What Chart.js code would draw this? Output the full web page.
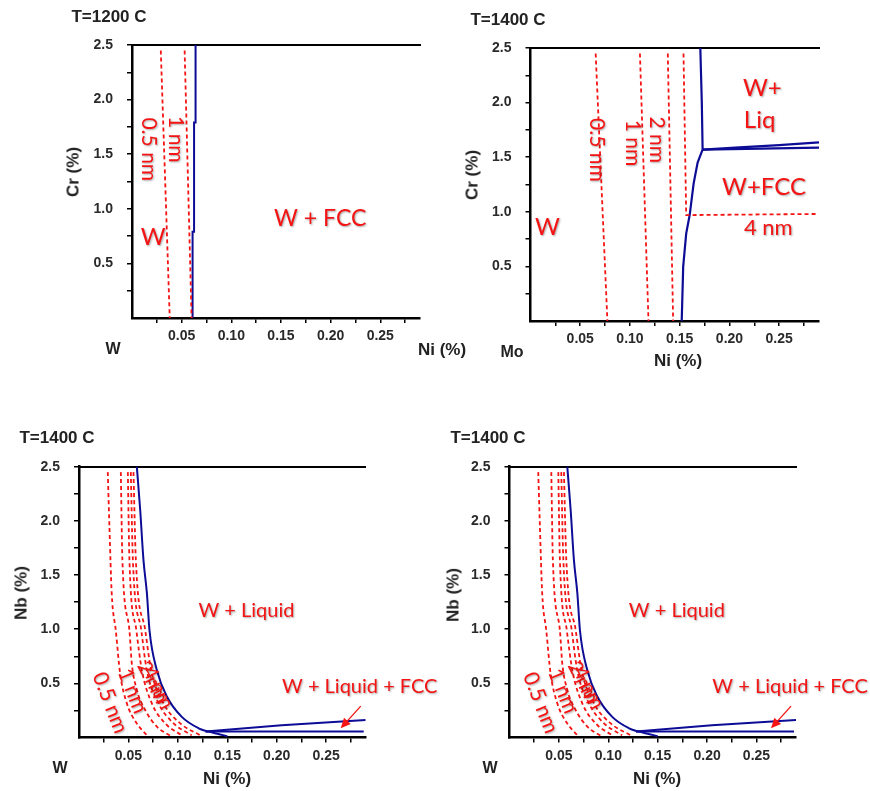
<!DOCTYPE html>
<html>
<head>
<meta charset="utf-8">
<script src="https://cdn.jsdelivr.net/npm/chart.js@4.4.1/dist/chart.umd.min.js"></script>
<style>
body{margin:0;background:#fff;width:870px;height:791px;position:relative;overflow:hidden;font-family:"Liberation Sans",Arial,sans-serif}
canvas{position:absolute}
.t{position:absolute;font-weight:bold;color:#222;white-space:nowrap;line-height:1;transform:translate(-50%,-50%)}
.v{transform:translate(-50%,-50%) rotate(-90deg)}
</style>
</head>
<body>
<canvas id="c1" width="440" height="370" style="left:0;top:0"></canvas>
<canvas id="c2" width="430" height="370" style="left:440px;top:0"></canvas>
<canvas id="c3" width="440" height="396" style="left:0;top:395px"></canvas>
<canvas id="c4" width="430" height="396" style="left:440px;top:395px"></canvas>

<div class="t" style="left:109px;top:16px;font-size:17px">T=1200 C</div>
<div class="t" style="left:508px;top:19px;font-size:17px">T=1400 C</div>
<div class="t" style="left:57px;top:437px;font-size:17px">T=1400 C</div>
<div class="t" style="left:488px;top:437px;font-size:17px">T=1400 C</div>

<div class="t v" style="left:73px;top:172px;font-size:17px">Cr (%)</div>
<div class="t v" style="left:472px;top:175px;font-size:17px">Cr (%)</div>
<div class="t v" style="left:21px;top:593px;font-size:17px">Nb (%)</div>
<div class="t v" style="left:453px;top:595px;font-size:17px">Nb (%)</div>

<div class="t" style="left:113px;top:349px;font-size:16px">W</div>
<div class="t" style="left:512px;top:352px;font-size:16px">Mo</div>
<div class="t" style="left:60px;top:768px;font-size:16px">W</div>
<div class="t" style="left:490px;top:768px;font-size:16px">W</div>

<div class="t" style="left:442px;top:349px;font-size:17px">Ni (%)</div>
<div class="t" style="left:678px;top:360px;font-size:17px">Ni (%)</div>
<div class="t" style="left:227px;top:778px;font-size:17px">Ni (%)</div>
<div class="t" style="left:657px;top:778px;font-size:17px">Ni (%)</div>

<script>
// axes
const niMax = 0.29;
const xStep = 0.025, xLabelStep = 0.05;
const yStep = 0.25, yLabelStep = 0.5;

// T=1200 C, W-Ni-Cr  [Ni, Cr]
const p1Nm05  = [[0.029, 2.45], [0.038, 0]];
const p1Nm1   = [[0.053, 2.45], [0.060, 0]];
const p1Phase = [[0.064, 2.5], [0.064, 1.79], [0.0625, 1.79], [0.0625, 0.79], [0.061, 0.79], [0.061, 0]];

// T=1400 C, Mo-Ni-Cr  [Ni, Cr]
const p2Nm05  = [[0.0655, 2.45], [0.0773, 0]];
const p2Nm1   = [[0.110, 2.45], [0.1186, 0]];
const p2Nm2   = [[0.138, 2.45], [0.1434, 0]];
const p2Nm4   = [[0.1538, 2.45], [0.1565, 0.97], [0.159, 0.97], [0.287, 0.98]];
const p2Solid = [[0.152, 0], [0.1535, 0.5], [0.1565, 0.8], [0.160, 0.97], [0.164, 1.26], [0.168, 1.45], [0.173, 1.57], [0.1722, 2.0], [0.1707, 2.5]];
const p2LiqUp = [[0.173, 1.57], [0.21, 1.59], [0.25, 1.61], [0.29, 1.635]];
const p2LiqLo = [[0.173, 1.57], [0.29, 1.588]];

// T=1400 C, W-Ni-Nb  [Ni, Nb]
const nbNm05 = [[0.0291, 2.45], [0.0308, 1.94], [0.0331, 1.33], [0.0372, 0.99], [0.0416, 0.59], [0.0484, 0.315], [0.0585, 0.13], [0.0687, 0.02]];
const nbNm1  = [[0.0423, 2.45], [0.0439, 1.64], [0.051, 0.99], [0.0534, 0.685], [0.0585, 0.44], [0.0669, 0.254], [0.0788, 0.10], [0.094, 0.007]];
const nbNm2  = [[0.0494, 2.45], [0.051, 1.64], [0.058, 0.99], [0.0636, 0.62], [0.0737, 0.315], [0.0872, 0.13], [0.104, 0.02]];
const nbNm4  = [[0.0524, 2.45], [0.0545, 1.64], [0.063, 0.99], [0.0686, 0.62], [0.0804, 0.315], [0.0957, 0.13], [0.114, 0.02]];
const nbNm5  = [[0.0551, 2.45], [0.0575, 1.64], [0.067, 0.99], [0.073, 0.62], [0.0855, 0.315], [0.1024, 0.13], [0.1227, 0.02]];
const nbLiquidus = [[0.0585, 2.5], [0.0619, 2.10], [0.0652, 1.64], [0.0687, 1.33], [0.0713, 0.99], [0.0788, 0.62], [0.089, 0.376], [0.104, 0.19], [0.121, 0.085], [0.131, 0.054], [0.14, 0.035], [0.15, 0.012]];
const nbFccUp = [[0.128, 0.055], [0.205, 0.112], [0.29, 0.162]];
const nbFccLo = [[0.128, 0.055], [0.288, 0.055]];

const RED = '#f41414', BLUE = '#0c0c96';
const FONT = '"Liberation Sans", Arial, sans-serif';

function xy(a){ return a.map(([x, y]) => ({ x, y })); }
function dashed(a, smooth){
  return { data: xy(a), borderColor: RED, borderWidth: 1.8, borderDash: [4, 3], pointRadius: 0,
           showLine: true, tension: 0, cubicInterpolationMode: smooth ? 'monotone' : 'default' };
}
function solid(a, smooth, w){
  return { data: xy(a), borderColor: BLUE, borderWidth: w || 2, pointRadius: 0,
           showLine: true, tension: 0, cubicInterpolationMode: smooth ? 'monotone' : 'default' };
}
function onStep(v, s){ return Math.abs(v / s - Math.round(v / s)) < 1e-6; }

// text labels drawn inside the plot, anchored on data values
const phaseLabels = {
  id: 'phaseLabels',
  afterDatasetsDraw(chart, args, opts){
    const { ctx, scales: { x, y } } = chart;
    ctx.save();
    ctx.fillStyle = RED;
    ctx.strokeStyle = RED;
    (opts.items || []).forEach(it => {
      ctx.save();
      ctx.translate(x.getPixelForValue(it.x), y.getPixelForValue(it.y));
      ctx.rotate((it.rot || 0) * Math.PI / 180);
      ctx.font = it.size + 'px Lato, "Open Sans", sans-serif';
      ctx.textAlign = 'center';
      ctx.textBaseline = 'middle';
      ctx.shadowColor = 'rgba(0,0,0,0.35)';
      ctx.shadowBlur = 2;
      ctx.shadowOffsetX = 1;
      ctx.shadowOffsetY = 1;
      ctx.fillText(it.t, 0, 0);
      ctx.restore();
    });
    (opts.arrows || []).forEach(a => {
      const x0 = x.getPixelForValue(a.from[0]), y0 = y.getPixelForValue(a.from[1]);
      const x1 = x.getPixelForValue(a.to[0]),   y1 = y.getPixelForValue(a.to[1]);
      const ang = Math.atan2(y1 - y0, x1 - x0);
      ctx.lineWidth = 1.3;
      ctx.beginPath(); ctx.moveTo(x0, y0); ctx.lineTo(x1 - 6 * Math.cos(ang), y1 - 6 * Math.sin(ang)); ctx.stroke();
      ctx.beginPath();
      ctx.moveTo(x1, y1);
      ctx.lineTo(x1 - 10 * Math.cos(ang) + 4.5 * Math.sin(ang), y1 - 10 * Math.sin(ang) - 4.5 * Math.cos(ang));
      ctx.lineTo(x1 - 10 * Math.cos(ang) - 4.5 * Math.sin(ang), y1 - 10 * Math.sin(ang) + 4.5 * Math.cos(ang));
      ctx.closePath(); ctx.fill();
    });
    ctx.restore();
  }
};
Chart.register(phaseLabels);

function panel(id, pad, datasets, items, arrows){
  const grid = { display: true, drawOnChartArea: false, drawTicks: true, tickLength: 5, color: '#000', lineWidth: 1.5 };
  return new Chart(document.getElementById(id), {
    type: 'scatter',
    data: { datasets },
    options: {
      responsive: false,
      animation: false,
      layout: { padding: pad },
      plugins: { legend: { display: false }, tooltip: { enabled: false }, phaseLabels: { items, arrows } },
      scales: {
        x: {
          type: 'linear', min: 0, max: niMax, position: 'bottom',
          afterFit: s => { s.height = 30; },
          border: { display: true, color: '#000', width: 2.5 },
          grid,
          ticks: {
            stepSize: xStep, includeBounds: false, autoSkip: false, maxRotation: 0, padding: 5,
            color: '#2a2a2a', font: { family: FONT, size: 14, weight: 'bold' },
            callback: v => v === 0 ? null : (onStep(v, xLabelStep) ? v.toFixed(2) : '')
          }
        },
        xTop: {
          type: 'linear', min: 0, max: niMax, position: 'top', display: true,
          afterFit: s => { s.height = 0; },
          border: { display: true, color: '#000', width: 2 },
          grid: { display: false },
          ticks: { display: false }
        },
        y: {
          type: 'linear', min: 0, max: 2.5, position: 'left',
          afterFit: s => { s.width = 50; },
          border: { display: true, color: '#000', width: 2.5 },
          grid,
          ticks: {
            stepSize: yStep, includeBounds: false, autoSkip: false, padding: 14,
            color: '#2a2a2a', font: { family: FONT, size: 14, weight: 'bold' },
            callback: v => v === 0 ? null : (onStep(v, yLabelStep) ? v.toFixed(1) : '')
          }
        }
      }
    }
  });
}

panel('c1', { left: 82, top: 45, right: 20, bottom: 22 },
  [dashed(p1Nm05), dashed(p1Nm1), solid(p1Phase)],
  [
    { t: '0.5 nm', x: 0.0164, y: 1.545, rot: 90, size: 21 },
    { t: '1 nm',   x: 0.0439, y: 1.636, rot: 90, size: 21 },
    { t: 'W',      x: 0.0214, y: 0.739, size: 24 },
    { t: 'W + FCC', x: 0.1895, y: 0.907, size: 23 }
  ]);

panel('c2', { left: 40.5, top: 48, right: 51, bottom: 19 },
  [dashed(p2Nm05), dashed(p2Nm1), dashed(p2Nm2), dashed(p2Nm4),
   solid(p2Solid, false, 2.2), solid(p2LiqUp, false, 2.2), solid(p2LiqLo, false, 2.2)],
  [
    { t: '0.5 nm', x: 0.0667, y: 1.567, rot: 90, size: 21 },
    { t: '1 nm',   x: 0.103,  y: 1.63,  rot: 90, size: 21 },
    { t: '2 nm',   x: 0.127,  y: 1.66,  rot: 90, size: 21 },
    { t: 'W',      x: 0.017,  y: 0.855, size: 24 },
    { t: 'W+',     x: 0.233,  y: 2.13,  size: 24 },
    { t: 'Liq',    x: 0.2303, y: 1.84,  size: 24 },
    { t: 'W+FCC',  x: 0.2347, y: 1.225, size: 24 },
    { t: '4 nm',   x: 0.239,  y: 0.855, size: 22 }
  ]);

function nbPanel(id, pad){
  panel(id, pad,
    [dashed(nbNm05, true), dashed(nbNm1, true), dashed(nbNm2, true), dashed(nbNm4, true), dashed(nbNm5, true),
     solid(nbLiquidus, true), solid(nbFccUp), solid(nbFccLo)],
    [
      { t: '0.5 nm', x: 0.0314, y: 0.32, rot: 69, size: 21 },
      { t: '1 nm',   x: 0.054,  y: 0.43, rot: 68, size: 21 },
      { t: '2 nm',   x: 0.0745, y: 0.51, rot: 63, size: 20 },
      { t: '4 nm',   x: 0.080,  y: 0.46, rot: 63, size: 20 },
      { t: 'W + Liquid', x: 0.1694, y: 1.176, size: 20 },
      { t: 'W + Liquid + FCC', x: 0.284, y: 0.466, size: 20 }
    ],
    [{ from: [0.285, 0.29], to: [0.2647, 0.085] }]);
}
nbPanel('c3', { left: 29, top: 71.7, right: 74.3, bottom: 23.5 });
nbPanel('c4', { left: 19.5, top: 71.7, right: 74, bottom: 23.5 });
</script>
</body>
</html>
